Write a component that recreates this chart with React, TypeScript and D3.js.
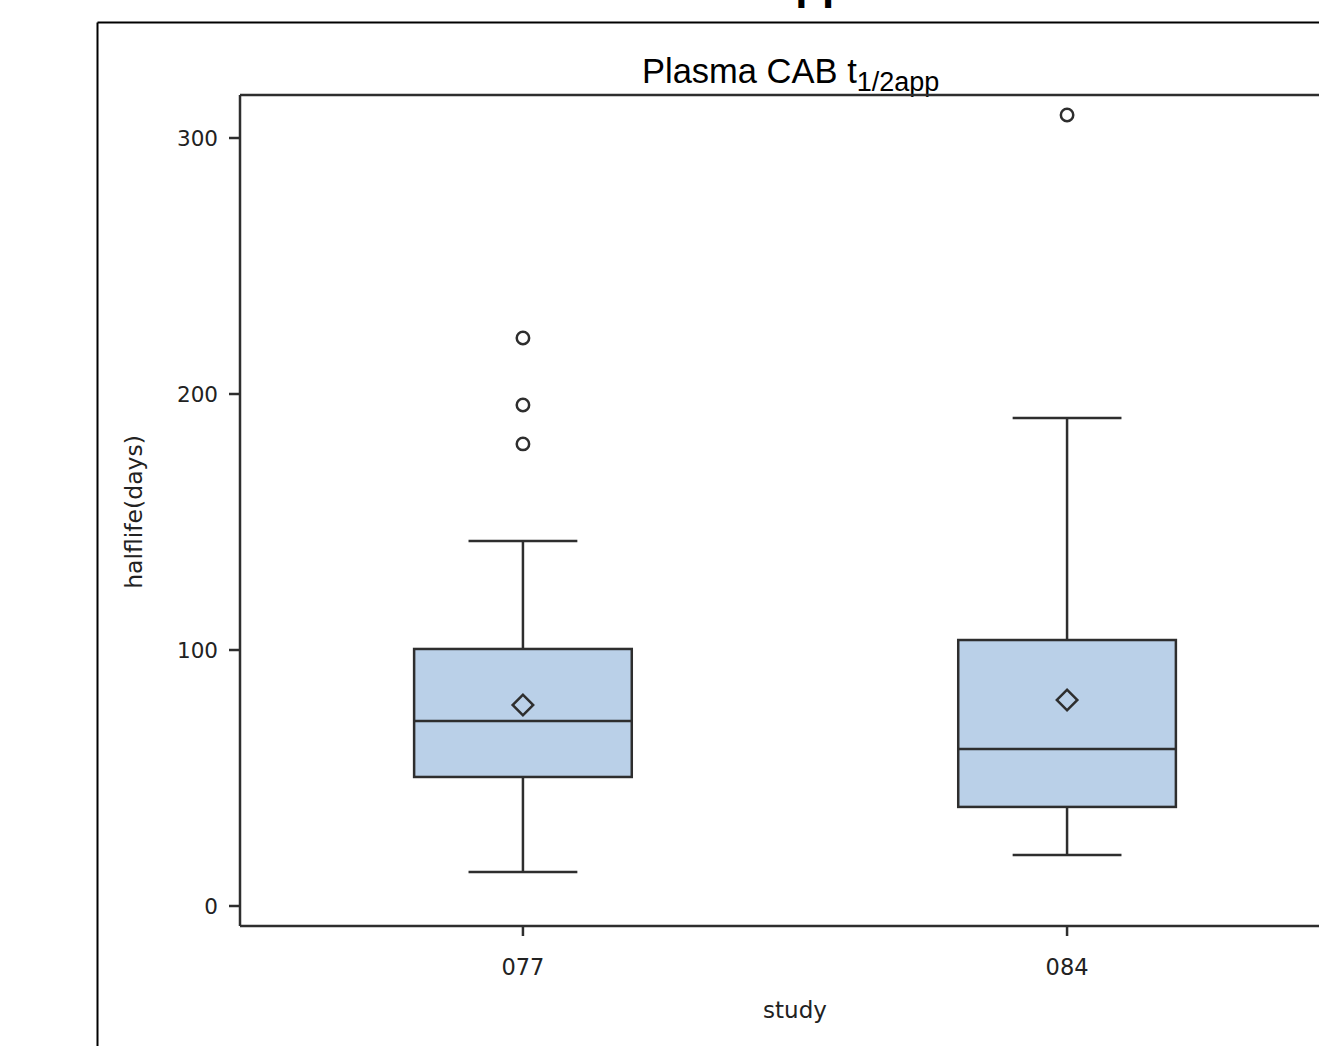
import React from "react";
import * as d3 from "d3";

const categories = ["077", "084"];
const whiskerLow = [13.3, 19.9];
const q1 = [50.4, 38.7];
const median = [72.3, 61.3];
const q3 = [100.4, 103.9];
const whiskerHigh = [142.6, 190.6];
const means = [78.5, 80.5];
const outliers: number[][] = [[221.9, 195.7, 180.5], [309.0]];
const yTicks = [0, 100, 200, 300];

const W = 1319;
const H = 1046;

export default function App() {
  const y = d3.scaleLinear().domain([0, 300]).range([906, 138]);
  const plotTop = 95;
  const plotBottom = 926;
  const plotLeft = 240;
  const x = d3.scalePoint<string>().domain(categories).range([240, 1350]).padding(0.52);
  const step = x.step();
  const boxW = step * 0.4;
  const capW = step * 0.2;
  const stroke = "#2e2e2e";
  const sw = 2.5;
  const titleFont = "'Liberation Sans', Arial, sans-serif";
  const axisFont = "'DejaVu Sans', Verdana, sans-serif";
  const diamond = d3.symbol().type(d3.symbolSquare).size(210);

  return (
    <svg
      width={W}
      height={H}
      style={{ position: "absolute", left: 0, top: 0, background: "#fff" }}
      fontFamily={titleFont}
    >
      <rect x={0} y={0} width={W} height={H} fill="#fff" />
      {/* partially visible page heading */}
      <text x={849} y={-1} textAnchor="end" fontSize={44} fontWeight="bold" fill="#000">
        Plasma CAB t1/2app
      </text>
      {/* outer frame */}
      <line x1={97.5} y1={22.5} x2={W + 5} y2={22.5} stroke="#000" strokeWidth={2} />
      <line x1={97.5} y1={22.5} x2={97.5} y2={H + 5} stroke="#000" strokeWidth={2} />

      {/* title */}
      <text x={642} y={83} fontSize={34.5} fill="#000">
        Plasma CAB t
        <tspan fontSize={27} dy={8}>1/2app</tspan>
      </text>

      {/* plot frame */}
      <line x1={plotLeft} y1={plotTop} x2={W + 5} y2={plotTop} stroke={stroke} strokeWidth={sw} />
      <line x1={plotLeft} y1={plotTop} x2={plotLeft} y2={plotBottom} stroke={stroke} strokeWidth={sw} />
      <line x1={plotLeft} y1={plotBottom} x2={W + 5} y2={plotBottom} stroke={stroke} strokeWidth={sw} />

      {/* y ticks */}
      {yTicks.map((t) => (
        <g key={t}>
          <line x1={229} x2={plotLeft} y1={y(t)} y2={y(t)} stroke={stroke} strokeWidth={sw} />
          <text
            x={218}
            y={y(t)}
            dy="0.36em"
            textAnchor="end"
            fontSize={21.5}
            fontFamily={axisFont}
            fill="#222"
          >
            {t}
          </text>
        </g>
      ))}
      <text
        transform={`translate(142,512) rotate(-90)`}
        textAnchor="middle"
        fontSize={23.5}
        fontFamily={axisFont}
        fill="#222"
      >
        halflife(days)
      </text>

      {/* x ticks */}
      {categories.map((c) => (
        <g key={c}>
          <line x1={x(c)} x2={x(c)} y1={plotBottom} y2={plotBottom + 10} stroke={stroke} strokeWidth={sw} />
          <text x={x(c)} y={975} textAnchor="middle" fontSize={22.5} fontFamily={axisFont} fill="#222">
            {c}
          </text>
        </g>
      ))}
      <text x={795} y={1018} textAnchor="middle" fontSize={23} fontFamily={axisFont} fill="#222">
        study
      </text>

      {/* boxes */}
      {categories.map((c, i) => {
        const cx = x(c) as number;
        return (
          <g key={c}>
            <line x1={cx} x2={cx} y1={y(whiskerLow[i])} y2={y(q1[i])} stroke={stroke} strokeWidth={sw} />
            <line x1={cx} x2={cx} y1={y(q3[i])} y2={y(whiskerHigh[i])} stroke={stroke} strokeWidth={sw} />
            <line x1={cx - capW / 2} x2={cx + capW / 2} y1={y(whiskerLow[i])} y2={y(whiskerLow[i])} stroke={stroke} strokeWidth={sw} />
            <line x1={cx - capW / 2} x2={cx + capW / 2} y1={y(whiskerHigh[i])} y2={y(whiskerHigh[i])} stroke={stroke} strokeWidth={sw} />
            <rect
              x={cx - boxW / 2}
              y={y(q3[i])}
              width={boxW}
              height={y(q1[i]) - y(q3[i])}
              fill="#BAD0E8"
              stroke={stroke}
              strokeWidth={sw}
            />
            <line x1={cx - boxW / 2} x2={cx + boxW / 2} y1={y(median[i])} y2={y(median[i])} stroke={stroke} strokeWidth={sw} />
            <path
              d={diamond() as string}
              transform={`translate(${cx},${y(means[i])}) rotate(45)`}
              fill="none"
              stroke={stroke}
              strokeWidth={sw}
            />
            {outliers[i].map((o, j) => (
              <circle key={j} cx={cx} cy={y(o)} r={6.2} fill="none" stroke={stroke} strokeWidth={sw} />
            ))}
          </g>
        );
      })}
    </svg>
  );
}
